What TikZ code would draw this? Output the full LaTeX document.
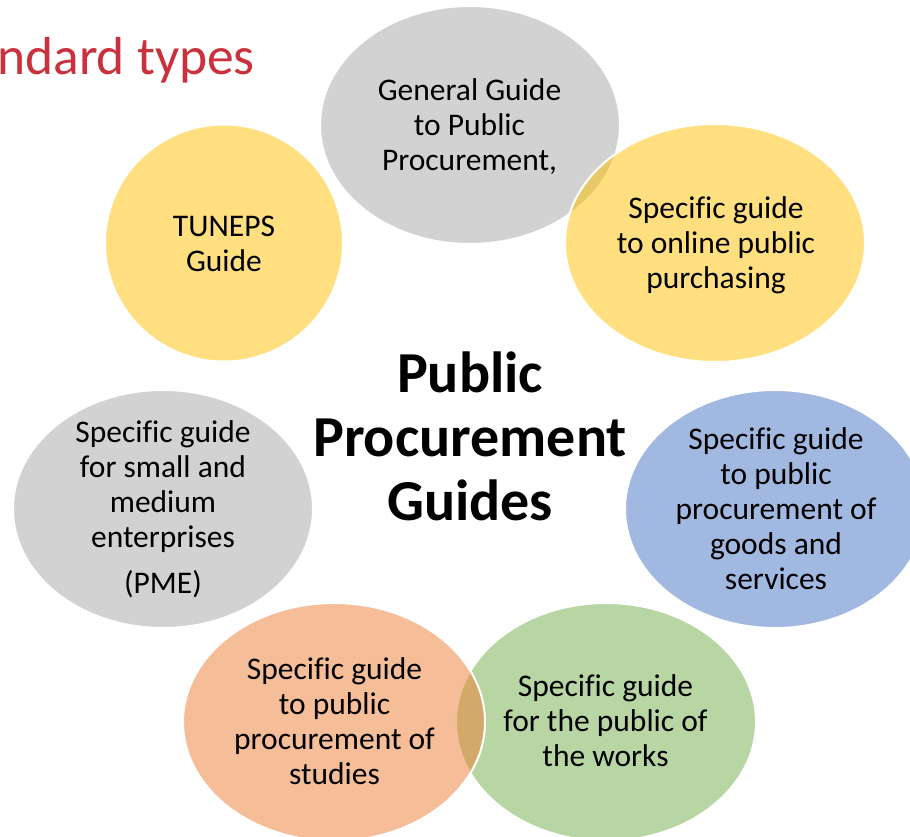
\documentclass[tikz,border=0pt]{standalone}
\usepackage{fontspec}
\setmainfont{Carlito}[Ligatures=NoCommon]
\usetikzlibrary{shapes.geometric}
\definecolor{cgray}{HTML}{A5A5A5}
\definecolor{cgold}{HTML}{FFC000}
\definecolor{cblue}{HTML}{4472C4}
\definecolor{cgreen}{HTML}{70AD47}
\definecolor{corange}{HTML}{ED7D31}
\definecolor{cred}{HTML}{C9313D}
\begin{document}
\begin{tikzpicture}[x=1pt,y=-1pt,
  bub/.style={ellipse, inner sep=0pt, fill opacity=0.5, draw=white, line width=2pt,
              minimum width=300pt, minimum height=238pt},
  lbl/.style={inner sep=0pt, align=center, text=black, font=\fontsize{31.5}{35}\selectfont}]
\useasboundingbox (0,0) rectangle (910,837);
% ellipses
\node[bub, fill=cgray]   (e1) at (470,125) {};
\node[bub, fill=cgold]   (e2) at (715,243) {};
\node[bub, fill=cblue]   (e3) at (775,509) {};
\node[bub, fill=cgreen]  (e4) at (606,722) {};
\node[bub, fill=corange, minimum width=302pt] (e5) at (334,722) {};
\node[bub, fill=cgray]   (e6) at (163,509) {};
\node[bub, fill=cgold, minimum width=238pt, minimum height=237pt] (e7) at (224,243) {};
% labels
\node[lbl] (t1) at (469.5,126.5) {General Guide\\to Public\\Procurement,};
\node[lbl] (t2) at (716,245) {Specific guide\\to online public\\purchasing};
\node[lbl] (t3) at (776,509) {Specific guide\\to public\\procurement of\\goods and\\services};
\node[lbl] (t4) at (605.5,721) {Specific guide\\for the public of\\the works};
\node[lbl] (t5) at (334.5,721.5) {Specific guide\\to public\\procurement of\\studies};
\node[lbl] (t6) at (163,509.5) {Specific guide\\for small and\\medium\\enterprises\\[11pt](PME)};
\node[lbl] (t7) at (224,244) {TUNEPS\\Guide};
% centre title
\node[inner sep=0pt, align=center, font=\fontsize{58}{64}\selectfont\bfseries] (ctr) at (470,436)
  {Public\\Procurement\\Guides};
% header fragment
\node[inner sep=0pt, anchor=base west, text=cred, font=\fontsize{53.5}{64}\selectfont] (hdr) at (-3,75) {ndard types};
\end{tikzpicture}
\end{document}
